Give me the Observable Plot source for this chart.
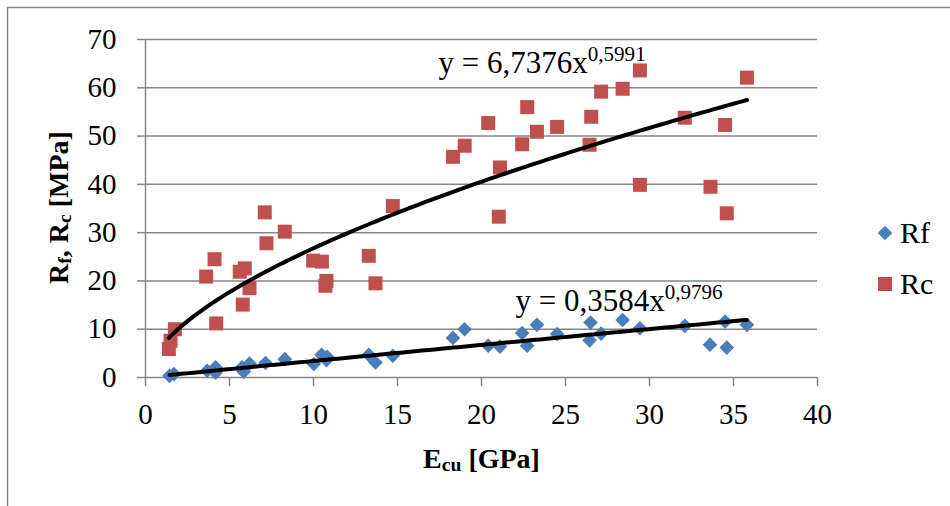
<!DOCTYPE html>
<html>
<head>
<meta charset="utf-8">
<script src="https://cdn.jsdelivr.net/npm/d3@7"></script>
<script src="https://cdn.jsdelivr.net/npm/@observablehq/plot@0.6"></script>
<style>
  body { margin: 0; background: #fff; }
  #chart { width: 950px; height: 506px; overflow: hidden; }
  #chart svg, #chart svg text { font-family: 'Liberation Serif', 'Times New Roman', serif !important; }
</style>
</head>
<body>
<div id="chart"></div>
<script>
// ---- data ----
const rfE = [1.43, 1.69, 3.67, 4.17, 4.17, 5.75, 5.85, 6.19, 7.14, 8.29, 10.02, 10.48, 10.77, 10.81, 13.29, 13.69, 14.72, 18.3, 18.99, 20.4, 21.1, 22.42, 22.72, 23.3, 24.5, 26.49, 26.43, 27.12, 28.4, 29.43, 32.1, 33.6, 34.5, 34.6, 35.8];
const rfR = [0.35, 0.7, 1.4, 2.1, 1.0, 2.1, 1.2, 2.9, 3.0, 3.8, 2.8, 4.7, 3.6, 4.3, 4.7, 3.1, 4.5, 8.2, 10.0, 6.6, 6.4, 9.2, 6.6, 10.9, 9.0, 11.4, 7.7, 9.1, 11.9, 10.2, 10.7, 6.8, 11.6, 6.2, 10.9];
const rcE = [1.39, 1.49, 1.75, 3.61, 4.11, 4.21, 5.61, 5.91, 5.79, 6.19, 7.10, 7.20, 8.29, 9.98, 10.5, 10.77, 10.71, 13.29, 13.69, 14.72, 18.3, 19.0, 20.4, 21.1, 21.03, 22.42, 22.72, 23.3, 24.5, 26.43, 26.53, 27.12, 28.4, 29.43, 29.43, 32.1, 33.63, 34.5, 34.6, 35.8];
const rcR = [5.9, 7.6, 10.0, 20.9, 24.5, 11.2, 21.9, 22.6, 15.1, 18.5, 34.2, 27.8, 30.2, 24.2, 24.0, 20.0, 19.0, 25.2, 19.5, 35.5, 45.7, 48.0, 52.7, 43.5, 33.3, 48.3, 56.0, 50.9, 51.9, 48.2, 54.0, 59.2, 59.8, 63.6, 39.9, 53.8, 39.5, 52.3, 34.0, 62.1];
// power trendlines y = a * x^b, as printed on the chart
const rfFit = {a: 0.3584, b: 0.9796, label: "y = 0,3584x", sup: "0,9796"};
const rcFit = {a: 6.7376, b: 0.5991, label: "y = 6,7376x", sup: "0,5991"};
const seriesNames = ["Rf", "Rc"];
const xTicks = [0, 5, 10, 15, 20, 25, 30, 35, 40];
const yTicks = [0, 10, 20, 30, 40, 50, 60, 70];

// ---- build tables ----
const rf = rfE.map((e, i) => ({E: e, R: rfR[i]}));
const rc = rcE.map((e, i) => ({E: e, R: rcR[i]}));
function trend(xs, fit) {
  const x0 = d3.min(xs), x1 = d3.max(xs), n = 120;
  return d3.range(n + 1).map(i => {
    const x = x0 + (x1 - x0) * i / n;
    return {E: x, R: fit.a * Math.pow(x, fit.b)};
  });
}
const blue = "#4A7EBB", red = "#C0504D", grey = "#868686";
const serif = "'Liberation Serif', 'Times New Roman', serif";

const svg = Plot.plot({
  width: 950,
  height: 506,
  marginLeft: 145,
  marginRight: 133,
  marginTop: 39,
  marginBottom: 129,
  style: {fontFamily: serif, fontSize: "29px", color: "black", background: "white", overflow: "visible"},
  x: {domain: [0, 40]},
  y: {domain: [0, 70]},
  marks: [
    Plot.ruleY(yTicks.filter(d => d > 0), {stroke: grey, strokeWidth: 1.5}),
    Plot.ruleY([0], {stroke: grey, strokeWidth: 1.5}),
    Plot.ruleX([0], {stroke: grey, strokeWidth: 1.5}),
    Plot.axisX({ticks: xTicks, tickSize: 9, tickPadding: 17, stroke: grey, strokeWidth: 1.5, fontSize: 29, fontFamily: serif, label: null, tickFormat: d => String(d)}),
    Plot.axisY({ticks: yTicks, tickSize: 8, tickPadding: 21, stroke: grey, strokeWidth: 1.5, fontSize: 29, fontFamily: serif, label: null, tickFormat: d => String(d)}),
    Plot.dot(rf, {x: "E", y: "R", symbol: "diamond2", r: 6.6, fill: blue, stroke: "none"}),
    Plot.dot(rc, {x: "E", y: "R", symbol: "square", r: 7.9, fill: red, stroke: "none"}),
    Plot.line(trend(rfE, rfFit), {x: "E", y: "R", stroke: "black", strokeWidth: 4, curve: "linear"}),
    Plot.line(trend(rcE, rcFit), {x: "E", y: "R", stroke: "black", strokeWidth: 4, curve: "linear"}),
    Plot.text([rcFit.label], {x: 17.44, y: 63.1, textAnchor: "start", lineAnchor: "bottom", fontSize: 31, fontFamily: serif}),
    Plot.text([rfFit.label], {x: 22.02, y: 13.8, textAnchor: "start", lineAnchor: "bottom", fontSize: 31, fontFamily: serif}),
    Plot.text(["Ecu [GPa]"], {frameAnchor: "bottom", dy: 90, textAnchor: "middle", lineAnchor: "bottom", fontSize: 28, fontWeight: "bold", fontFamily: serif}),
    Plot.text(["Rf, Rc [MPa]"], {frameAnchor: "left", dx: -78, dy: -1, rotate: -90, textAnchor: "middle", lineAnchor: "bottom", fontSize: 28, fontWeight: "bold", fontFamily: serif})
  ]
});

// rich text: superscripts and subscripts
const sel = d3.select(svg);
function rich(plain, parts) {
  sel.selectAll("text").filter(function () { return this.textContent === plain; }).each(function () {
    const t = d3.select(this);
    t.text(null);
    parts.forEach(([s, kind]) => {
      const sp = t.append("tspan").text(s);
      if (kind === "sup") sp.attr("font-size", "0.68em").attr("dy", "-0.55em");
      if (kind === "sub") sp.attr("font-size", "0.7em").attr("dy", "0.2em");
      if (kind === "back") sp.attr("dy", "-0.14em");
    });
  });
}
rich(rcFit.label, [[rcFit.label], [rcFit.sup, "sup"]]);
rich(rfFit.label, [[rfFit.label], [rfFit.sup, "sup"]]);
rich("Ecu [GPa]", [["E"], ["cu", "sub"], [" [GPa]", "back"]]);
rich("Rf, Rc [MPa]", [["R"], ["f", "sub"], [", R", "back"], ["c", "sub"], [" [MPa]", "back"]]);

// legend
const lg = sel.append("g").attr("font-family", serif).attr("font-size", 30).attr("text-anchor", "start");
const items = [
  {name: seriesNames[0], sym: d3.symbolDiamond2, size: 137, color: blue, y: 233},
  {name: seriesNames[1], sym: d3.symbolSquare, size: 196, color: red, y: 284}
];
items.forEach(it => {
  lg.append("path").attr("d", d3.symbol(it.sym, it.size)()).attr("transform", `translate(885,${it.y})`).attr("fill", it.color);
  lg.append("text").attr("x", 900).attr("y", it.y + 10).attr("text-anchor", "start").text(it.name);
});
// outer chart frame
sel.append("path").attr("d", "M7.5,506 V7.5 H950").attr("fill", "none").attr("stroke", grey).attr("stroke-width", 1.5);

document.getElementById("chart").appendChild(svg);
</script>
</body>
</html>
